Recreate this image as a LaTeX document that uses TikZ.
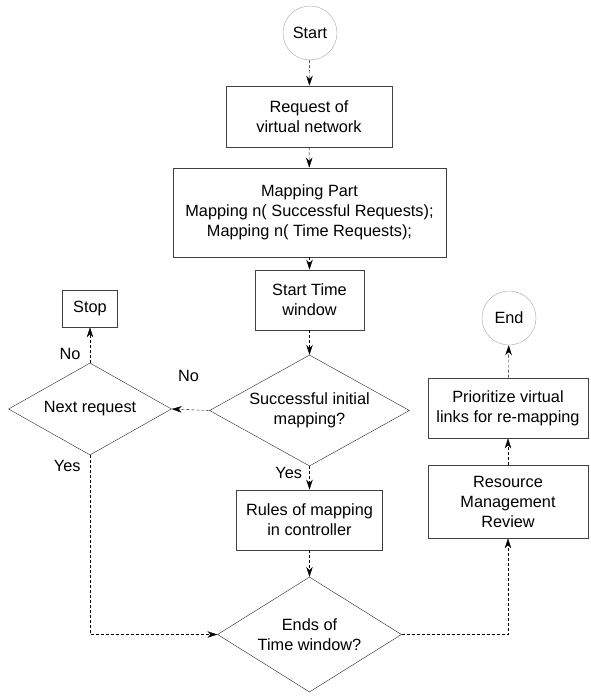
\documentclass[tikz,border=0pt]{standalone}
\usepackage{fontspec}
\setmainfont{Liberation Sans}
\usetikzlibrary{shapes.geometric,arrows.meta}

\tikzset{
  every node/.style={font=\fontsize{16.3}{20}\selectfont, align=center},
  box/.style={rectangle, draw=black!75, thick, inner sep=0pt},
  decision/.style={diamond, draw=black!85, inner sep=0pt, aspect=1.8},
  term/.style={circle, draw=black!35, inner sep=0pt, minimum size=54pt},
  flow/.style={draw, densely dashed, -{Stealth[length=10pt,width=6.5pt]}},
}

\begin{document}
\begin{tikzpicture}[x=1pt,y=-1pt]
  \useasboundingbox (0,0) rectangle (590,699);

  % main column
  \node[term] (start) at (310,33) {Start};
  \node[box, minimum width=166pt, minimum height=61pt] (req) at (309,116.5) {Request of\\virtual network};
  \node[box, minimum width=273pt, minimum height=89pt] (map) at (309.5,212.5) {Mapping Part\\Mapping n( Successful Requests);\\Mapping n( Time Requests);};
  \node[box, minimum width=109pt, minimum height=60pt] (stw) at (309.5,300) {Start Time\\window};
  \node[decision, minimum width=200pt, minimum height=111pt] (succ) at (309.5,410.5) {Successful initial\\mapping?};
  \node[box, minimum width=146pt, minimum height=60pt] (rules) at (309.5,520) {Rules of mapping\\in controller};
  \node[decision, minimum width=184pt, minimum height=115pt] (ends) at (309.5,634.5) {Ends of\\Time window?};

  % left branch
  \node[decision, minimum width=163pt, minimum height=92pt] (next) at (90,409) {Next request};
  \node[box, minimum width=55pt, minimum height=37pt] (stop) at (90,308.5) {Stop};

  % right branch
  \node[box, minimum width=160pt, minimum height=73pt] (review) at (508,501.5) {Resource\\Management\\Review};
  \node[box, minimum width=160pt, minimum height=60pt] (prio) at (508,408) {Prioritize virtual\\links for re-mapping};
  \node[term] (end) at (509,318) {End};

  % connectors
  \path[flow] (start) -- (req);
  \path[flow] (req) -- (map);
  \path[flow] (map) -- (stw);
  \path[flow] (stw) -- (succ);
  \path[flow] (succ.south) -- node[pos=0.3, left=4pt] {Yes} (rules);
  \path[flow] (rules) -- (ends.north);
  \path[flow] (succ.west) -- node[pos=0.55, above=24pt] {No} (next.east);
  \path[flow] (next.north) -- node[pos=0.25, left=6pt] {No} (stop);
  \path[flow] (next.south) |- node[pos=0.03, left=6pt] {Yes} (ends.west);
  \path[flow] (ends.east) -| (review.south);
  \path[flow] (review) -- (prio);
  \path[flow] (prio) -- (end);
\end{tikzpicture}
\end{document}
